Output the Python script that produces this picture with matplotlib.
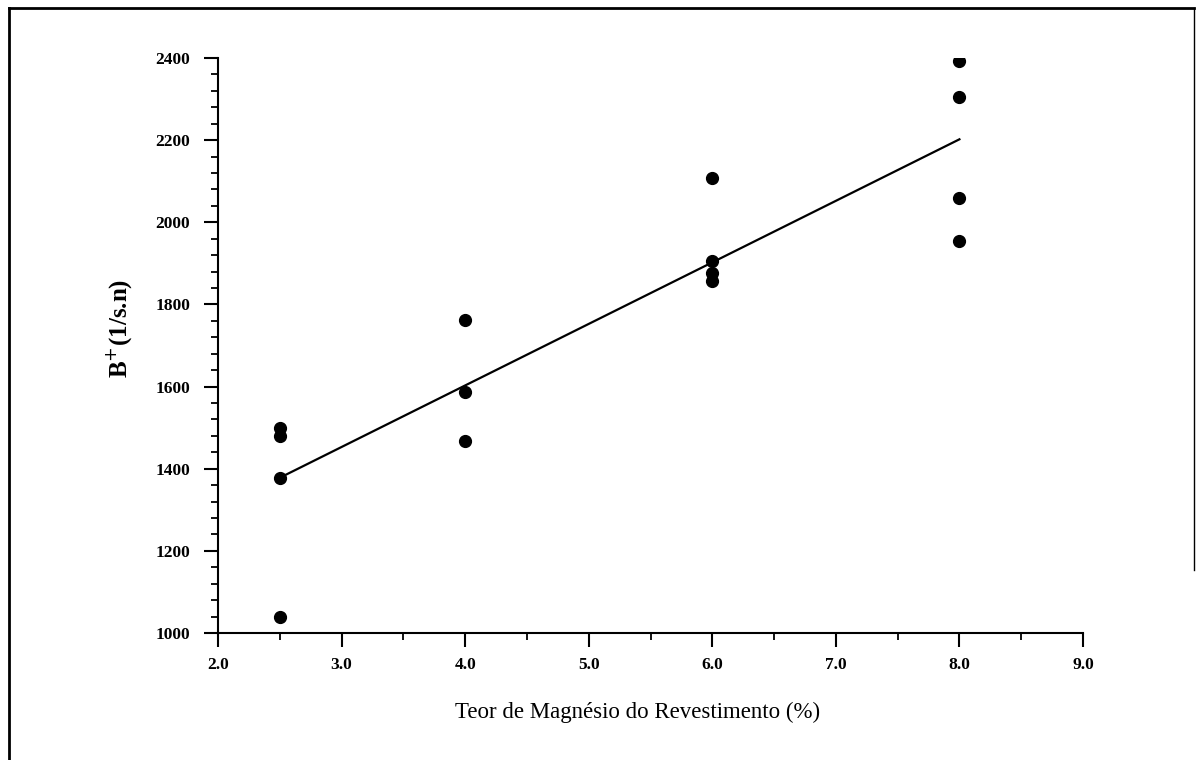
import matplotlib
matplotlib.use("Agg")
import matplotlib.pyplot as plt
from matplotlib.ticker import MultipleLocator, FormatStrFormatter
from matplotlib.lines import Line2D

# dados
teor_mg = [2.5, 2.5, 2.5, 2.5, 4.0, 4.0, 4.0, 6.0, 6.0, 6.0, 6.0, 8.0, 8.0, 8.0, 8.0]
b_mais = [1038, 1378, 1480, 1500, 1762, 1586, 1467, 2107, 1906, 1877, 1858, 2393, 2304, 2058, 1954]

# reta de ajuste (extremos)
reta_x = [2.5, 8.0]
reta_y = [1378, 2202]

plt.rcParams["font.family"] = ["Liberation Serif", "DejaVu Serif"]

fig = plt.figure(figsize=(11.96, 7.6), dpi=100)
ax = fig.add_axes([0.1823, 0.1671, 0.7232, 0.7566])

ax.plot(reta_x, reta_y, color="black", linewidth=1.6)
ax.plot(teor_mg, b_mais, "o", color="black", markersize=8.5)

ax.set_xlim(2.0, 9.0)
ax.set_ylim(1000, 2400)
ax.xaxis.set_major_locator(MultipleLocator(1.0))
ax.xaxis.set_minor_locator(MultipleLocator(0.5))
ax.yaxis.set_major_locator(MultipleLocator(200))
ax.yaxis.set_minor_locator(MultipleLocator(40))
ax.xaxis.set_major_formatter(FormatStrFormatter("%.1f"))

for s in ["top", "right"]:
    ax.spines[s].set_visible(False)
for s in ["left", "bottom"]:
    ax.spines[s].set_linewidth(1.5)

ax.tick_params(which="major", direction="out", length=10, width=1.5, labelsize=12.5)
ax.tick_params(axis="y", which="major", pad=10)
ax.tick_params(axis="x", which="major", pad=7)
ax.tick_params(which="minor", direction="out", length=5, width=1.3)
for lab in ax.get_xticklabels() + ax.get_yticklabels():
    lab.set_fontweight("bold")

ax.set_xlabel("Teor de Magnésio do Revestimento (%)", fontsize=16.5)
ax.set_ylabel(r"B$^{+}$(1/s.n)", fontsize=18, fontweight="bold")
ax.xaxis.set_label_coords(0.485, -0.12)
ax.yaxis.set_label_coords(-0.097, 0.53)

# moldura da página digitalizada
fig.add_artist(Line2D([0.0075, 0.9985], [0.9895, 0.9895], transform=fig.transFigure, color="black", linewidth=2))
fig.add_artist(Line2D([0.0075, 0.0075], [0.0, 0.9895], transform=fig.transFigure, color="black", linewidth=2))
fig.add_artist(Line2D([0.9985, 0.9985], [0.25, 0.9895], transform=fig.transFigure, color="black", linewidth=1))

fig.savefig("out.png", dpi=100)
